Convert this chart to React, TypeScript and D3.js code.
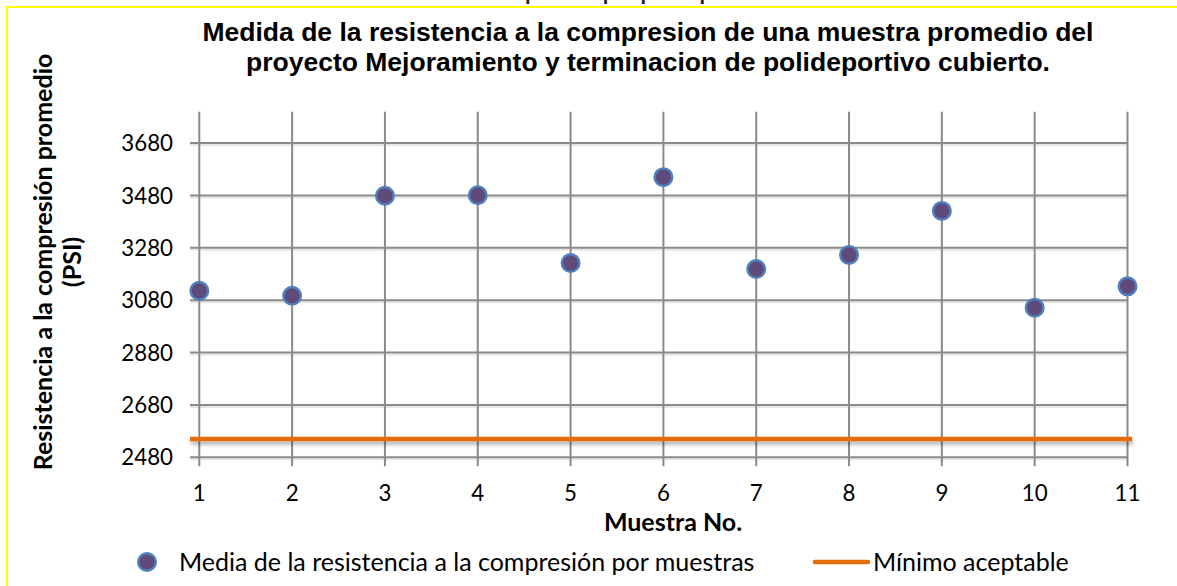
import React from 'react';
import * as d3 from 'd3';

// data
const muestras = [1, 2, 3, 4, 5, 6, 7, 8, 9, 10, 11];
const resistencia = [3116, 3097, 3479, 3481, 3222, 3550, 3199, 3253, 3421, 3051, 3133];
const minimoAceptable = 2550;
const yTicks = [2480, 2680, 2880, 3080, 3280, 3480, 3680];

const titleLines = [
  'Medida de la resistencia a la compresion de una muestra promedio del',
  'proyecto Mejoramiento y terminacion de polideportivo cubierto.',
];
const yTitleLines = ['Resistencia a la compresión promedio', '(PSI)'];
const xTitle = 'Muestra No.';
const serieNombre = 'Media de la resistencia a la compresión por muestras';
const minimoNombre = 'Mínimo aceptable';

const W = 1177;
const H = 586;
const calibri = "Lato, 'Open Sans', sans-serif";
const arial = "'Liberation Sans', Arial, sans-serif";
const gridColor = '#8a8a8a';

export default function App() {
  const x = d3.scaleLinear().domain([1, 11]).range([199.3, 1127.5]);
  const y = d3.scaleLinear().domain([2480, 3800]).range([457.3, 111.7]);
  const top = y(3800);
  const bottom = y(2480);

  return (
    <svg width={W} height={H} style={{ position: 'absolute', left: 0, top: 0, background: '#fff' }}>
      <defs>
        <filter id="sombra" filterUnits="userSpaceOnUse" x={0} y={0} width={W} height={H}>
          <feDropShadow dx="1" dy="3" stdDeviation="2" floodColor="#000" floodOpacity="0.35" />
        </filter>
      </defs>

      {/* clipped heading of the page above the chart */}
      <text x={590} y={0} textAnchor="middle" fontFamily={arial} fontWeight="bold" fontSize={20} fill="#222">
        Resistencia a la compresión por polideportivo cubierto
      </text>

      {/* yellow frame */}
      <path d={`M7,${H + 5} L7,7 L${W + 5},7`} fill="none" stroke="#ffff00" strokeWidth={2} />

      {/* title */}
      {titleLines.map((t, i) => (
        <text key={i} x={648} y={41 + i * 29.5} textAnchor="middle" fontFamily={arial} fontWeight="bold" fontSize={26.5} fill="#000">
          {t}
        </text>
      ))}

      {/* horizontal grid */}
      {yTicks.map(v => (
        <g key={v}>
          <line x1={190} x2={x(11)} y1={y(v) + 2} y2={y(v) + 2} stroke="#e6e6e6" strokeWidth={2} />
          <line x1={190} x2={x(11)} y1={y(v)} y2={y(v)} stroke={gridColor} strokeWidth={2} />
          <text x={173} y={y(v)} dy="0.36em" textAnchor="end" fontFamily={calibri} fontSize={22.3} fill="#000">
            {v}
          </text>
        </g>
      ))}

      {/* vertical grid */}
      {muestras.map(m => (
        <g key={m}>
          <line x1={x(m)} x2={x(m)} y1={top} y2={bottom + 9} stroke={gridColor} strokeWidth={2} />
          <text x={x(m)} y={501} textAnchor="middle" fontFamily={calibri} fontSize={22.3} fill="#000">
            {m}
          </text>
        </g>
      ))}

      {/* minimum line */}
      <line
        x1={x(0.9)}
        x2={x(11.05)}
        y1={y(minimoAceptable)}
        y2={y(minimoAceptable)}
        stroke="#e46c0a"
        strokeWidth={4.5}
        filter="url(#sombra)"
      />

      {/* points */}
      {resistencia.map((v, i) => (
        <circle key={i} cx={x(muestras[i])} cy={y(v)} r={8.8} fill="#604a7b" stroke="#4f81bd" strokeWidth={2.4} />
      ))}

      {/* axis titles */}
      <text x={673} y={531} textAnchor="middle" fontFamily={calibri} fontWeight="bold" fontSize={25} fill="#000">
        {xTitle}
      </text>
      {yTitleLines.map((t, i) => (
        <text
          key={i}
          transform={`translate(${43 + i * 29},262) rotate(-90)`}
          dy="0.36em"
          textAnchor="middle"
          fontFamily={calibri}
          fontWeight="bold"
          fontSize={25}
          fill="#000"
        >
          {t}
        </text>
      ))}

      {/* legend */}
      <circle cx={147} cy={562} r={8.8} fill="#604a7b" stroke="#4f81bd" strokeWidth={2.4} />
      <text x={179} y={562} dy="0.36em" fontFamily={calibri} fontSize={25} fill="#000">
        {serieNombre}
      </text>
      <line x1={815} x2={868} y1={562} y2={562} stroke="#e46c0a" strokeWidth={4.5} strokeLinecap="round" />
      <text x={873} y={562} dy="0.36em" fontFamily={calibri} fontSize={25} fill="#000">
        {minimoNombre}
      </text>
    </svg>
  );
}
